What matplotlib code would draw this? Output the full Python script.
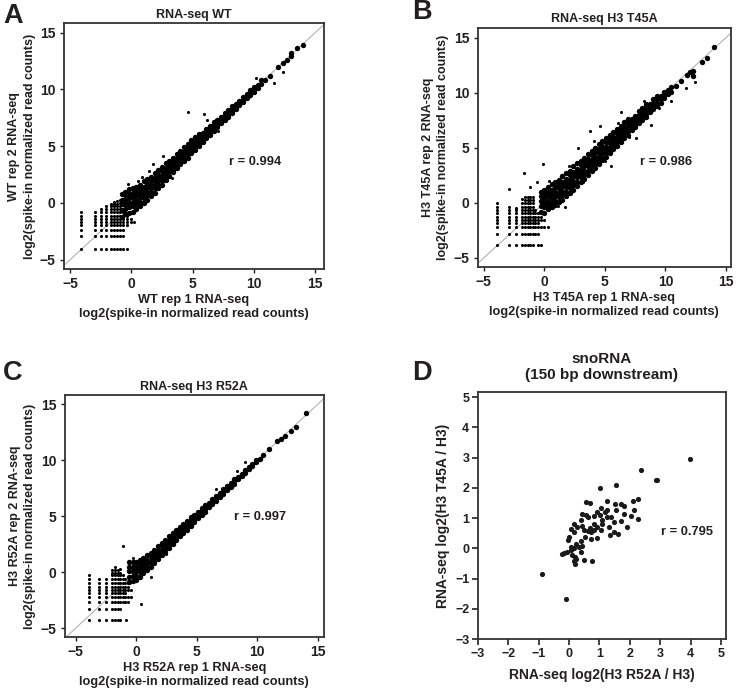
import matplotlib
matplotlib.use("Agg")
import matplotlib.pyplot as plt

plt.rcParams['font.family'] = ['Liberation Sans', 'DejaVu Sans']
plt.rcParams['font.weight'] = 'bold'

# ---- panel A: WT replicates (dense band as x column -> y values) ----
wt_band = {
    -0.8: [-1.2, -0.6, -0.1, 0.3, 0.8], -0.5: [-1.0, -0.5, -0.1, 0.3, 0.7, 1.0],
    -0.2: [-0.9, -0.4, 0.0, 0.4, 0.8, 1.2], 0.1: [-0.8, -0.3, 0.1, 0.5, 0.9, 1.3],
    0.4: [-0.5, -0.1, 0.3, 0.7, 1.0, 1.4], 0.7: [-0.3, 0.1, 0.5, 0.9, 1.2, 1.6],
    1.0: [0.0, 0.4, 0.8, 1.1, 1.4, 1.9], 1.3: [0.3, 0.7, 1.0, 1.3, 1.7, 2.1],
    1.6: [0.6, 1.0, 1.3, 1.6, 1.9, 2.3], 1.9: [0.9, 1.3, 1.6, 1.9, 2.2, 2.6],
    2.2: [1.3, 1.6, 1.9, 2.2, 2.5, 2.9], 2.5: [1.6, 1.9, 2.2, 2.5, 2.8, 3.2],
    2.8: [2.0, 2.3, 2.6, 2.8, 3.1, 3.5], 3.1: [2.4, 2.7, 2.9, 3.1, 3.4, 3.7],
    3.4: [2.7, 3.0, 3.2, 3.4, 3.7, 4.0], 3.7: [3.1, 3.3, 3.5, 3.7, 4.0, 4.3],
    4.0: [3.4, 3.6, 3.8, 4.0, 4.3, 4.6], 4.3: [3.7, 3.9, 4.1, 4.3, 4.6, 4.9],
    4.6: [4.0, 4.3, 4.5, 4.7, 4.9, 5.2], 4.9: [4.4, 4.6, 4.8, 5.0, 5.2, 5.5],
    5.2: [4.7, 4.9, 5.1, 5.3, 5.5, 5.8], 5.5: [5.0, 5.2, 5.4, 5.6, 5.8, 6.1],
    5.8: [5.4, 5.6, 5.8, 6.0, 6.2], 6.1: [5.7, 5.9, 6.1, 6.3, 6.5],
    6.4: [6.0, 6.2, 6.4, 6.6, 6.8], 6.7: [6.3, 6.5, 6.7, 6.9, 7.1],
    7.0: [6.7, 6.9, 7.1, 7.3], 7.3: [7.0, 7.2, 7.4, 7.6],
    7.6: [7.3, 7.5, 7.7, 7.9], 7.9: [7.6, 7.8, 8.0, 8.2],
    8.2: [7.9, 8.1, 8.3, 8.5], 8.5: [8.3, 8.5, 8.7],
    8.8: [8.6, 8.8, 9.0], 9.1: [8.9, 9.1, 9.3], 9.4: [9.2, 9.4, 9.6],
    9.7: [9.5, 9.7, 9.9], 10.0: [9.8, 10.0, 10.2], 10.3: [10.1, 10.4],
    10.6: [10.5, 10.8], 10.9: [10.8], 11.3: [11.2], 12.0: [12.0],
    12.4: [12.3], 12.7: [12.6], 13.0: [12.9, 13.2], 13.5: [13.6], 14.0: [13.9],
}
wt_low = {
    -4.1: [-0.83, -1.12, -1.41, -1.68, -1.98, -2.42, -2.95, -4.06],
    -3.0: [-0.83, -1.12, -1.41, -1.68, -1.98, -2.42, -2.95, -4.06],
    -2.45: [-0.55, -0.83, -1.12, -1.41, -1.68, -1.98, -2.42, -2.95, -4.06],
    -2.05: [-0.3, -0.55, -0.83, -1.12, -1.41, -1.68, -1.98, -2.42, -2.95, -4.06],
    -1.7: [-0.1, -0.3, -0.55, -0.83, -1.12, -1.41, -1.68, -1.98, -2.42, -2.95, -4.06],
    -1.45: [0.1, -0.1, -0.3, -0.55, -0.83, -1.12, -1.41, -1.68, -1.98, -2.42, -2.95, -4.06],
    -1.2: [0.2, -0.1, -0.3, -0.55, -0.83, -1.12, -1.41, -1.68, -1.98, -2.42, -2.95, -4.06],
    -0.95: [0.3, 0.0, -0.3, -0.55, -0.83, -1.12, -1.41, -1.68, -1.98, -2.42, -2.95, -4.06],
    -0.65: [-0.83, -1.12, -1.41, -1.68, -1.98, -2.42, -2.95, -4.06],
    -0.35: [-1.12, -1.41, -1.68, -1.98, -4.06],
    -0.05: [-1.41, -1.68], 0.2: [-1.68],
}
wt_out_x = [4.6, 5.9, 12.4, 10.2, 1.8, 2.6, 3.3, 7.1, 6.2, 11.6, 0.9, -0.3, 0.5, 1.4]
wt_out_y = [8.0, 7.8, 11.5, 11.0, 3.4, 4.1, 2.2, 6.3, 7.3, 10.6, 2.3, 1.7, 1.9, 2.8]

# ---- panel B: H3 T45A replicates ----
t45_band = {
    -0.3: [-0.8, -0.3, 0.2, 0.6, 1.0], 0.0: [-0.9, -0.4, 0.0, 0.4, 0.8, 1.2],
    0.3: [-0.6, -0.2, 0.2, 0.6, 1.0, 1.4], 0.6: [-0.4, 0.0, 0.4, 0.8, 1.2, 1.7],
    0.9: [-0.2, 0.2, 0.6, 1.0, 1.4, 1.9], 1.2: [0.1, 0.5, 0.9, 1.3, 1.7, 2.1],
    1.5: [0.3, 0.7, 1.1, 1.5, 1.9, 2.4], 1.8: [0.6, 1.0, 1.4, 1.8, 2.2, 2.7],
    2.1: [0.9, 1.3, 1.7, 2.1, 2.5, 2.9], 2.4: [1.2, 1.6, 2.0, 2.4, 2.8, 3.3],
    2.7: [1.5, 1.9, 2.3, 2.7, 3.1, 3.6], 3.0: [1.9, 2.3, 2.6, 3.0, 3.4, 3.8],
    3.3: [2.2, 2.6, 2.9, 3.3, 3.7, 4.1], 3.6: [2.5, 2.9, 3.3, 3.6, 4.0, 4.4],
    3.9: [2.9, 3.2, 3.6, 3.9, 4.3, 4.7], 4.2: [3.2, 3.5, 3.9, 4.2, 4.6, 5.0],
    4.5: [3.5, 3.8, 4.2, 4.5, 4.9, 5.3], 4.8: [3.9, 4.2, 4.5, 4.8, 5.2, 5.6],
    5.1: [4.2, 4.5, 4.8, 5.1, 5.5, 5.9], 5.4: [4.5, 4.8, 5.1, 5.4, 5.8, 6.2],
    5.7: [4.9, 5.2, 5.4, 5.7, 6.0, 6.4], 6.0: [5.2, 5.5, 5.7, 6.0, 6.3, 6.7],
    6.3: [5.5, 5.8, 6.1, 6.3, 6.6, 7.0], 6.6: [5.9, 6.1, 6.4, 6.7, 6.9, 7.3],
    6.9: [6.2, 6.5, 6.7, 7.0, 7.2, 7.6], 7.2: [6.6, 6.8, 7.0, 7.3, 7.6],
    7.5: [6.9, 7.1, 7.4, 7.6, 7.9], 7.8: [7.2, 7.5, 7.7, 8.0, 8.3],
    8.1: [7.5, 7.8, 8.1, 8.3, 8.6], 8.4: [7.8, 8.1, 8.4, 8.7, 9.0],
    8.7: [8.2, 8.5, 8.7, 9.0], 9.0: [8.5, 8.8, 9.1, 9.4],
    9.3: [8.8, 9.1, 9.4, 9.7], 9.6: [9.1, 9.4, 9.7], 9.9: [9.5, 9.8, 10.1],
    10.2: [9.9, 10.2], 10.5: [10.1, 10.5], 10.9: [10.6], 11.3: [11.1],
    11.8: [11.6], 12.0: [11.9], 12.3: [12.0, 11.5], 13.0: [12.8],
    13.4: [13.1], 14.0: [14.1],
}
t45_low = {
    -3.9: [-0.03, -0.34, -0.64, -0.94, -1.25, -1.55, -1.85, -2.21, -2.85, -3.82],
    -2.88: [-0.34, -0.64, -0.94, -1.25, -1.55, -1.85, -2.21, -2.85, -3.82],
    -2.33: [-0.49, -0.64, -0.94, -1.25, -1.55, -1.85, -2.21, -2.85, -3.82],
    -1.86: [0.34, -0.03, -0.34, -0.64, -0.94, -1.25, -1.55, -1.85, -2.21, -2.85, -3.82],
    -1.59: [0.57, 0.3, -0.03, -0.34, -0.64, -0.94, -1.25, -1.55, -1.85, -2.21, -2.85, -3.82],
    -1.36: [0.57, 0.3, -0.03, -0.34, -0.64, -0.94, -1.25, -1.55, -1.85, -2.21, -2.85, -3.82],
    -1.14: [0.57, 0.3, -0.03, -0.34, -0.64, -0.94, -1.25, -1.55, -1.85, -2.21, -2.85, -3.82],
    -0.95: [0.57, 0.3, -0.03, -0.34, -0.64, -0.94, -1.25, -1.55, -1.85, -2.21, -2.85, -3.82],
    -0.76: [-0.64, -0.94, -1.25, -1.55, -1.85, -2.21, -2.85],
    -0.54: [-0.94, -1.25, -1.55, -1.85, -2.21, -2.85, -3.82],
    -0.31: [-1.25, -1.55, -2.21, -3.82],
    0.0: [-1.55, -2.21], 0.3: [-2.21],
}
t45_out_x = [-2.88, -1.64, -0.12, 1.67, -1.2, -0.6, 2.8, 4.6, 5.5, 7.6, 8.8, 10.5,
             12.4, 11.7, 3.8, 6.3, 0.4, 1.1, 2.0, 3.2, 4.1, 5.0, 6.1, 7.0, 8.2, 9.5]
t45_out_y = [1.25, 2.7, 3.5, -0.4, 1.4, 1.9, 5.0, 7.0, 3.3, 5.9, 7.1, 9.2,
             11.0, 10.4, 6.5, 8.2, 2.0, -0.3, 3.3, 1.9, 5.6, 3.8, 7.2, 6.0, 9.2, 8.6]

# ---- panel C: H3 R52A replicates ----
r52_band = {
    -0.6: [-0.9, -0.4, 0.1, 0.5, 0.9], -0.3: [-0.8, -0.3, 0.1, 0.5, 0.9],
    0.0: [-0.7, -0.3, 0.1, 0.5, 0.9], 0.3: [-0.4, 0.0, 0.4, 0.7, 1.1],
    0.6: [-0.1, 0.3, 0.6, 0.9, 1.3], 0.9: [0.2, 0.5, 0.8, 1.1, 1.5],
    1.2: [0.5, 0.8, 1.1, 1.4, 1.7], 1.5: [0.8, 1.1, 1.4, 1.7, 2.0],
    1.8: [1.2, 1.4, 1.7, 2.0, 2.3], 2.1: [1.5, 1.7, 2.0, 2.3, 2.6],
    2.4: [1.8, 2.1, 2.3, 2.6, 2.9], 2.7: [2.2, 2.4, 2.7, 2.9, 3.2],
    3.0: [2.5, 2.7, 3.0, 3.2, 3.5], 3.3: [2.9, 3.1, 3.3, 3.5, 3.8],
    3.6: [3.2, 3.4, 3.6, 3.8, 4.0], 3.9: [3.5, 3.7, 3.9, 4.1, 4.3],
    4.2: [3.8, 4.0, 4.2, 4.4, 4.6], 4.5: [4.1, 4.3, 4.5, 4.7, 4.9],
    4.8: [4.5, 4.7, 4.9, 5.1], 5.1: [4.8, 5.0, 5.2, 5.4],
    5.4: [5.1, 5.3, 5.5, 5.7], 5.7: [5.4, 5.6, 5.8, 6.0],
    6.0: [5.8, 6.0, 6.2], 6.3: [6.1, 6.3, 6.5], 6.6: [6.4, 6.6, 6.8],
    6.9: [6.7, 6.9, 7.1], 7.2: [7.0, 7.2, 7.4], 7.5: [7.3, 7.5, 7.7],
    7.8: [7.6, 7.8, 8.0], 8.1: [7.9, 8.1, 8.3], 8.4: [8.3, 8.5],
    8.7: [8.6, 8.8], 9.0: [8.9, 9.1], 9.3: [9.2, 9.4], 9.6: [9.5, 9.7],
    9.9: [9.8, 10.0], 10.2: [10.1], 10.5: [10.5], 11.0: [11.0],
    11.6: [11.7], 12.0: [11.9], 12.3: [12.2], 12.8: [12.6], 13.2: [13.0], 14.0: [14.2],
}
r52_low = {
    -3.93: [-0.27, -0.65, -1.0, -1.31, -1.6, -1.9, -2.26, -2.65, -3.33, -4.29],
    -3.1: [-0.65, -1.0, -1.31, -1.6, -1.9, -2.26, -2.65, -3.33, -4.29],
    -2.46: [-0.65, -1.0, -1.31, -1.6, -1.9, -2.26, -2.65, -3.33, -4.29],
    -2.0: [0.18, -0.05, -0.27, -0.65, -1.0, -1.31, -1.6, -1.9, -2.26, -2.65, -3.33, -4.29],
    -1.72: [0.5, 0.18, -0.05, -0.27, -0.65, -1.0, -1.31, -1.6, -1.9, -2.26, -2.65, -3.33, -4.29],
    -1.5: [0.18, -0.05, -0.27, -0.65, -1.0, -1.31, -1.6, -1.9, -2.26, -2.65, -3.33, -4.29],
    -1.31: [0.3, -0.05, -0.27, -0.65, -1.0, -1.31, -1.6, -1.9, -2.26, -2.65, -3.33, -4.29],
    -1.09: [-0.27, -0.65, -1.0, -1.31, -1.6, -1.9, -2.26, -2.65],
    -0.9: [-0.65, -1.0, -1.31, -1.6, -1.9, -2.26, -2.65],
    -0.7: [-1.0, -1.31, -1.6, -2.26, -2.65],
    -0.81: [-4.29], -0.4: [-1.6, -2.26],
}
r52_out_x = [-1.09, 1.25, 0.43, -0.3, 9.0, 8.3, 6.6, 2.5]
r52_out_y = [2.35, -0.47, -2.8, 1.3, 9.8, 9.0, 7.4, 1.6]

# ---- panel D: snoRNA, 150 bp downstream ----
sno_r52 = [3.97, 2.86, 2.9, 2.36, 1.54, 1.01, 2.26, 2.09, 1.70, 1.81, 1.50, 1.24,
           0.69, 0.55, 1.04, 0.93, 1.17, 0.55, 0.42, 0.61, 0.83, 1.02, 1.10, 1.37,
           1.48, 1.70, 1.81, 2.03, 2.14, 2.27, 1.90, 1.48, 1.32, 1.35, 1.04, 0.93,
           0.83, 0.69, 0.61, 0.50, 0.44, 0.28, 0.17, 0.08, 0.01, -0.03, 0.17, 0.39,
           0.72, 0.83, 0.93, 0.72, 0.52, 0.39, 0.44, 0.33, 0.22, 0.17, 0.08, -0.05,
           -0.16, -0.23, 0.11, 0.19, 0.22, 0.17, 0.19, 0.48, 0.41, 0.06, 1.26, 1.26,
           1.07, 1.61, 1.54, 0.77, -0.87, -0.10]
sno_t45 = [2.95, 2.27, 2.25, 2.58, 2.09, 1.98, 1.62, 1.57, 1.48, 1.41, 1.48, 1.57,
           1.51, 1.54, 1.32, 1.21, 1.21, 1.10, 1.12, 1.02, 1.07, 1.10, 0.93, 1.04,
           0.88, 0.91, 1.12, 1.07, 1.26, 0.98, 0.69, 0.55, 0.71, 0.44, 0.60, 0.71,
           0.82, 0.66, 0.57, 0.60, 0.74, 0.71, 0.55, 0.65, 0.36, 0.27, 0.82, 0.93,
           0.55, 0.60, 0.33, 0.30, 0.38, 0.25, 0.08, 0.03, 0.16, 0.00, -0.05, -0.11,
           -0.14, -0.19, -0.22, -0.27, -0.36, -0.42, -0.53, -0.38, -0.11, 0.05, 1.26, 1.04,
           0.80, 0.47, 1.26, -0.42, -0.86, -1.68]

ink = '#231f20'


def unpack(cols):
    xs, ys = [], []
    for x, yl in cols.items():
        for y in yl:
            xs.append(x)
            ys.append(y)
    return xs, ys


def replicate_panel(rect, band, low, out_x, out_y, lims, title, xl, yl, rtext, rpos):
    ax = fig.add_axes(rect)
    bx, by = unpack(band)
    lx, ly = unpack(low)
    ax.plot([-10, 20], [-10, 20], color='#a8a8a8', lw=0.7, zorder=1)
    # the band is thousands of overlapping genes, so draw it with fatter dots
    ax.scatter(bx, by, s=15, color='black', linewidths=0, zorder=2)
    ax.scatter(lx + out_x, ly + out_y, s=5, color='black', linewidths=0, zorder=2)
    ax.set_xlim(lims[0], lims[1])
    ax.set_ylim(lims[2], lims[3])
    ax.set_xticks([-5, 0, 5, 10, 15])
    ax.set_yticks([-5, 0, 5, 10, 15])
    ax.tick_params(direction='out', length=3, width=1, colors=ink,
                   labelsize=10, pad=3)
    for lab in ax.get_xticklabels() + ax.get_yticklabels():
        lab.set_fontweight('bold')
    for s in ax.spines.values():
        s.set_linewidth(1.3)
        s.set_color('#333333')
    ax.set_title(title, fontsize=9, fontweight='bold', color=ink, pad=4)
    ax.set_xlabel(xl, fontsize=9.2, fontweight='bold', color=ink, labelpad=2,
                  linespacing=1.25)
    ax.set_ylabel(yl, fontsize=9, fontweight='bold', color=ink, labelpad=3,
                  linespacing=1.4)
    ax.text(rpos[0], rpos[1], rtext, fontsize=9.3, fontweight='bold',
            color=ink, va='center', ha='left')
    return ax


fig = plt.figure(figsize=(7.36, 6.91), dpi=100)
lg = 'log2(spike-in normalized read counts)'

replicate_panel([0.087, 0.611, 0.353, 0.355], wt_band, wt_low, wt_out_x, wt_out_y,
                (-5.5, 15.7, -5.8, 15.8), 'RNA-seq WT',
                'WT rep 1 RNA-seq\n' + lg, 'WT rep 2 RNA-seq\n' + lg,
                'r = 0.994', (8.0, 3.6))
replicate_panel([0.649, 0.614, 0.344, 0.346], t45_band, t45_low, t45_out_x, t45_out_y,
                (-5.5, 15.4, -5.8, 15.9), 'RNA-seq H3 T45A',
                'H3 T45A rep 1 RNA-seq\n' + lg, 'H3 T45A rep 2 RNA-seq\n' + lg,
                'r = 0.986', (7.9, 3.7))
replicate_panel([0.088, 0.078, 0.352, 0.350], r52_band, r52_low, r52_out_x, r52_out_y,
                (-5.9, 15.5, -5.8, 15.8), 'RNA-seq H3 R52A',
                'H3 R52A rep 1 RNA-seq\n' + lg, 'H3 R52A rep 2 RNA-seq\n' + lg,
                'r = 0.997', (8.1, 4.9))

# panel D
axd = fig.add_axes([0.649, 0.075, 0.337, 0.357])
axd.scatter(sno_r52, sno_t45, s=14, color='#1a1a1a', linewidths=0)
axd.set_xlim(-3, 5.15)
axd.set_ylim(-3, 5.15)
axd.set_xticks(range(-3, 6))
axd.set_yticks(range(-3, 6))
axd.tick_params(direction='out', length=4, width=1.2, colors=ink,
                labelsize=9, pad=2)
for lab in axd.get_xticklabels() + axd.get_yticklabels():
    lab.set_fontweight('bold')
for s in axd.spines.values():
    s.set_linewidth(1.3)
    s.set_color('#333333')
axd.set_title('snoRNA\n(150 bp downstream)', fontsize=11, fontweight='bold',
              color=ink, pad=10, linespacing=1.15)
axd.set_xlabel('RNA-seq log2(H3 R52A / H3)', fontsize=10, fontweight='bold',
               color=ink, labelpad=6)
axd.set_ylabel('RNA-seq log2(H3 T45A / H3)', fontsize=10, fontweight='bold',
               color=ink, labelpad=4)
axd.text(3.03, 0.55, 'r = 0.795', fontsize=9.3, fontweight='bold', color=ink,
         va='center', ha='left')

# panel letters
for lx, ly, letter in [(0.005, 0.977, 'A'), (0.56, 0.982, 'B'),
                       (0.004, 0.46, 'C'), (0.56, 0.46, 'D')]:
    fig.text(lx, ly, letter, fontsize=19.5, fontweight='bold', color=ink,
             va='center', ha='left')

fig.savefig('out.png', dpi=100, facecolor='white')
